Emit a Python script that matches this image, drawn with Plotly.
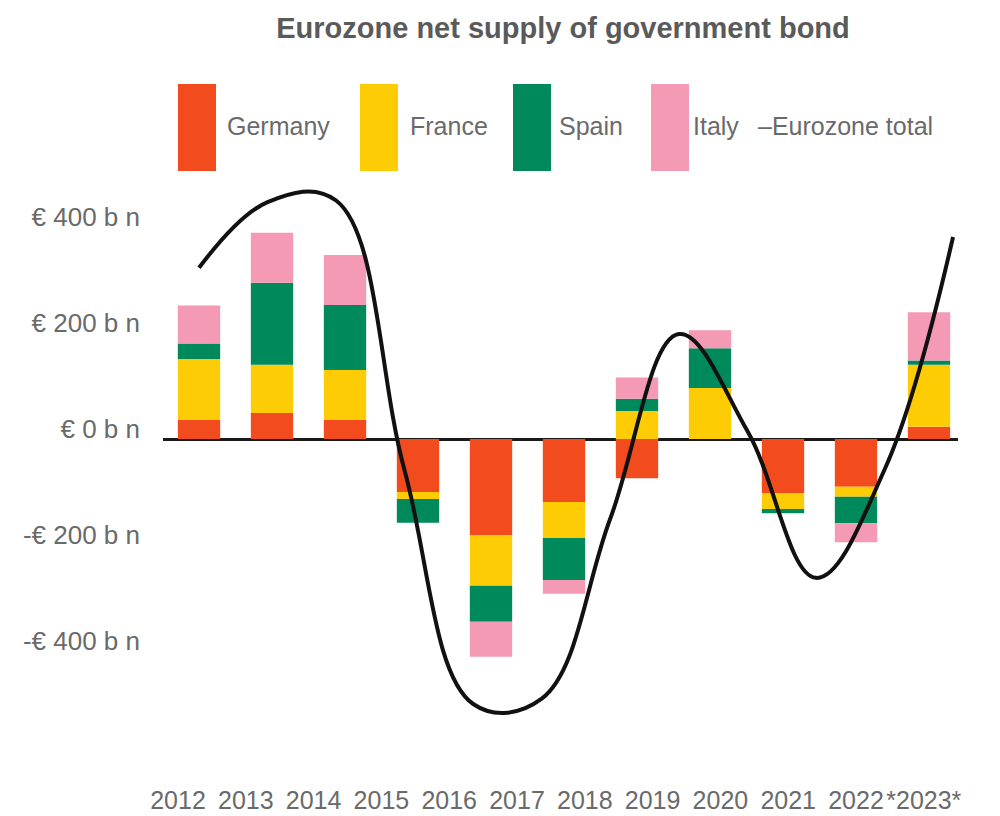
import plotly.graph_objects as go

# ---------------- data ----------------
bar_years = ["2012", "2013", "2014", "2015", "2016", "2017", "2019", "2020", "2021", "2022", "*2023*"]
germany = [36, 49, 36, -100, -181, -119, -74, 0, -102, -90, 23]
france = [115, 91, 94, -13, -96, -68, 53, 96, -30, -19, 117]
spain = [29, 155, 123, -45, -68, -79, 23, 75, -8, -50, 8]
italy = [72, 94, 94, 0, -66, -26, 40, 34, 0, -36, 91]

line_years = ["2012", "2013", "2014", "2015", "2016", "2017", "2018", "2019", "2020", "2021", "2022", "*2023*"]
eurozone_total = [323, 447, 450, -60, -500, -490, -150, 198, 15, -262, -58, 381]

y_tickvals = [400, 200, 0, -200, -400]
y_ticktext = ["€ 400 b n", "€ 200 b n", "€ 0 b n", "-€ 200 b n", "-€ 400 b n"]

series_names = ["Germany", "France", "Spain", "Italy"]
series_values = [germany, france, spain, italy]
colors = ["#F24B1E", "#FECC05", "#008A5B", "#F59AB5"]

# ---------------- layout geometry ----------------
W, H = 1000, 816
L, R, T, B = 163, 42, 170, 41
plot_w = W - L - R
plot_h = H - T - B
FONT = "Liberation Sans, Arial, sans-serif"
GREY = "#6a6a6a"


def px_x(x):
    return (x - L) / plot_w


def px_y(y):
    return (H - B - y) / plot_h


fig = go.Figure()

for name, vals, col in zip(series_names, series_values, colors):
    fig.add_trace(go.Bar(
        x=bar_years, y=vals, name=name, marker=dict(color=col, line=dict(width=0)),
        width=0.58, xaxis="x", yaxis="y", showlegend=False,
    ))

fig.add_trace(go.Scatter(
    x=line_years, y=eurozone_total, name="Eurozone total", mode="lines",
    line=dict(color="#111111", width=4, shape="spline", smoothing=1.1),
    xaxis="x2", yaxis="y", showlegend=False,
))

# transparent carrier so the year-label axis is drawn
fig.add_trace(go.Scatter(
    x=line_years, y=eurozone_total, mode="lines", opacity=0, hoverinfo="skip",
    line=dict(width=0), xaxis="x3", yaxis="y", showlegend=False,
))

# custom legend (large colour blocks)
legend_items = [
    ("Germany", colors[0], 178, 216, 225),
    ("France", colors[1], 360, 398, 408),
    ("Spain", colors[2], 513, 551, 557),
    ("Italy", colors[3], 651, 689, 691),
]
shapes = []
annotations = []
for label, col, x0, x1, tx in legend_items:
    shapes.append(dict(type="rect", xref="paper", yref="paper",
                       x0=px_x(x0), x1=px_x(x1), y0=px_y(171), y1=px_y(84),
                       fillcolor=col, line=dict(width=0), layer="above"))
    annotations.append(dict(text=label, xref="paper", yref="paper", x=px_x(tx), y=px_y(126),
                            xanchor="left", yanchor="middle", showarrow=False,
                            font=dict(size=25, color=GREY, family=FONT)))
annotations.append(dict(text="–Eurozone total", xref="paper", yref="paper", x=px_x(756), y=px_y(126),
                        xanchor="left", yanchor="middle", showarrow=False,
                        font=dict(size=25, color=GREY, family=FONT)))

zero_px = 439
scale = 0.53  # px per unit
y_top = (zero_px - T) / scale
y_bot = -((H - B) - zero_px) / scale

label_step = 67.8  # px between year labels
fig.update_layout(
    width=W, height=H,
    margin=dict(l=L, r=R, t=T, b=B, autoexpand=False),
    paper_bgcolor="white", plot_bgcolor="white",
    barmode="relative",
    showlegend=False,
    title=dict(text="<b>Eurozone net supply of government bond</b>", xref="paper", yref="container",
               x=px_x(563), y=1 - 28 / H, xanchor="center", yanchor="middle",
               font=dict(size=29, color="#5a5a5a", family=FONT)),
    font=dict(family=FONT, color=GREY),
    xaxis=dict(type="category", categoryorder="array", categoryarray=bar_years,
               range=[(L - 199) / 73, (W - R - 199) / 73],
               showticklabels=False, showgrid=False, zeroline=False, showline=False, ticks=""),
    xaxis2=dict(type="category", categoryorder="array", categoryarray=line_years,
                overlaying="x", side="bottom", anchor="y",
                range=[(L - 199) / 68.55, (W - R - 199) / 68.55],
                showticklabels=False, showgrid=False, zeroline=False, showline=False, ticks=""),
    xaxis3=dict(type="category", categoryorder="array", categoryarray=line_years,
                overlaying="x", side="bottom", anchor="y",
                range=[(L - 178) / label_step, (W - R - 178) / label_step],
                showticklabels=True, showgrid=False, zeroline=False, showline=False, ticks="",
                tickangle=0, ticklabelstandoff=8, tickfont=dict(size=25, color=GREY)),
    yaxis=dict(range=[y_bot, y_top], tickvals=y_tickvals, ticktext=y_ticktext,
               showgrid=False, zeroline=True, zerolinecolor="#1a1a1a", zerolinewidth=2.5,
               showline=False, ticks="", ticklabelshift=-10, ticklabelstandoff=22,
               tickfont=dict(size=26, color=GREY)),
    shapes=shapes,
    annotations=annotations,
)

fig.write_html("out.html")
